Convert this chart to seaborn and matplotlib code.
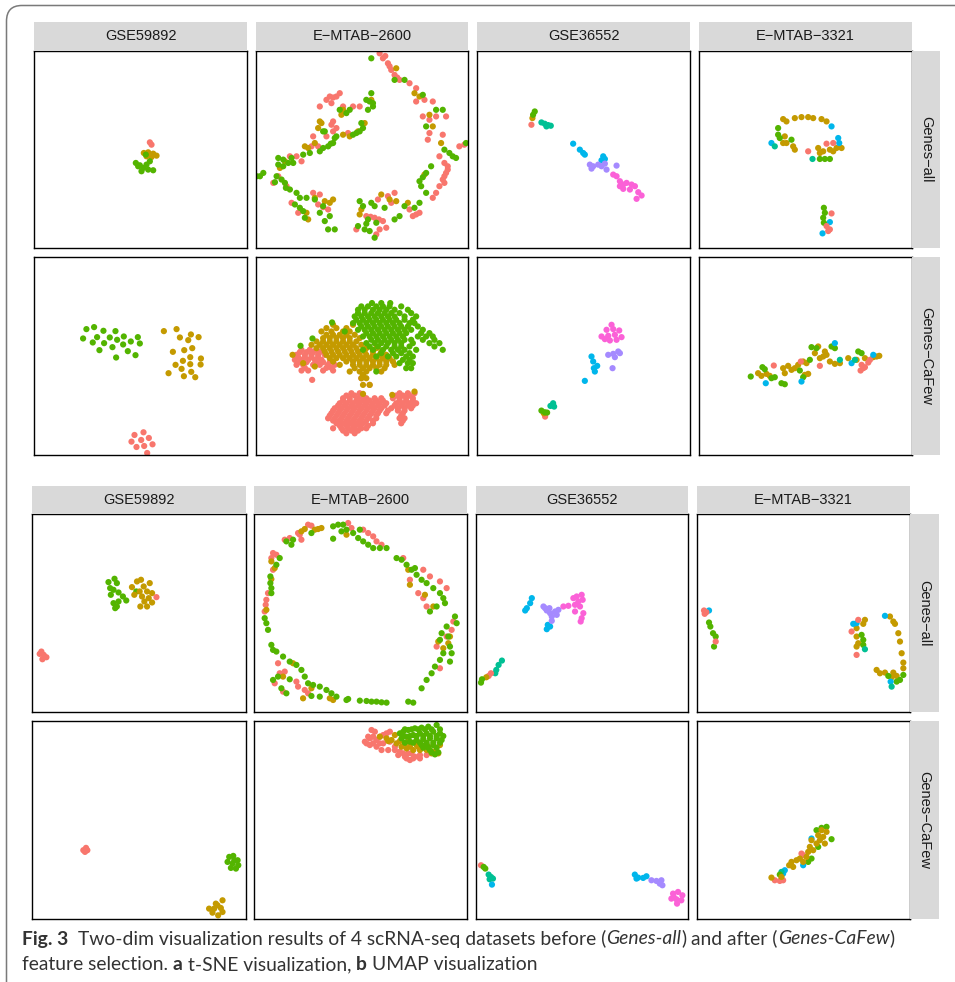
import matplotlib
matplotlib.use("Agg")
import matplotlib.pyplot as plt
import matplotlib.patches as mpatches
import pandas as pd
import seaborn as sns

datasets = ["GSE59892", "E\u2212MTAB\u22122600", "GSE36552", "E\u2212MTAB\u22123321"]
feature_sets = ["Genes\u2212all", "Genes\u2212CaFew"]
cluster_colors = ["#F8766D", "#C49A00", "#53B400", "#00C094", "#00B6EB", "#A58AFF", "#FB61D7"]

# embedding coordinates: (dim1, dim2, cluster)
tsne_all_gse59892 = [
    (34.7, -27.5, 0), (35.2, -28.2, 0),
    (32.9, -30.7, 1), (34.2, -30.5, 1), (35.7, -30.9, 1), (36.7, -31.5, 1), (33.7, -31.7, 1), (35.2, -31.9, 1),
    (30.5, -33.7, 2), (31.7, -34.4, 2), (32.7, -35.2, 2), (33.7, -34.2, 2), (34.7, -33.2, 2), (33.5, -31.2, 2),
    (35.7, -35.9, 2), (32.2, -36.2, 2), (34.2, -35.7, 2), (31.2, -34.7, 2),
]

tsne_all_emtab2600 = [
    (38.2, -2.2, 0), (39.7, -3.7, 0), (40.7, -5.7, 0), (41.7, -7.2, 0), (43.2, -8.7, 0), (37.2, -0.7, 0),
    (46.2, -9.7, 0), (48.2, -11.2, 0), (48.2, -15.2, 0), (50.7, -14.7, 0), (53.2, -15.2, 0), (50.2, -19.7, 0),
    (52.2, -20.7, 0), (54.2, -19.7, 0), (57.2, -19.7, 0), (52.2, -24.7, 0), (51.7, -26.7, 0), (56.2, -25.2, 0),
    (61.2, -28.7, 0), (62.7, -28.2, 0), (55.2, -31.7, 0), (56.7, -33.7, 0), (57.7, -34.7, 0), (57.2, -36.7, 0),
    (56.2, -38.7, 0), (53.2, -44.2, 0), (54.2, -42.7, 0), (55.2, -40.7, 0), (56.7, -39.7, 0), (49.2, -48.7, 0),
    (47.2, -49.7, 0), (46.2, -47.7, 0), (39.7, -43.7, 0), (40.7, -45.7, 0), (41.7, -42.7, 0), (36.7, -44.7, 0),
    (33.2, -49.7, 0), (35.7, -50.2, 0), (38.2, -51.2, 0), (37.2, -53.7, 0), (39.2, -53.2, 0), (36.2, -55.2, 0),
    (30.2, -53.7, 0), (18.7, -46.2, 0), (21.7, -47.7, 0), (19.2, -43.2, 0), (17.2, -42.7, 0), (9.2, -40.7, 0),
    (10.7, -45.7, 0), (12.7, -48.7, 0), (6.7, -37.7, 0), (5.2, -39.7, 0), (10.2, -31.7, 0), (12.2, -31.7, 0),
    (13.7, -33.2, 0), (17.2, -25.7, 0), (16.7, -28.7, 0), (18.7, -28.7, 0), (21.2, -25.7, 0), (23.2, -24.2, 0),
    (27.7, -24.7, 0), (24.2, -23.2, 0), (22.7, -22.2, 0), (23.2, -21.2, 0), (19.2, -16.7, 0), (21.2, -14.7, 0),
    (22.7, -15.7, 0), (22.2, -13.7, 0), (24.2, -13.7, 0), (25.2, -12.7, 0), (26.2, -16.7, 0), (29.2, -16.7, 0),
    (31.2, -16.7, 0), (38.9, -1.5, 0), (40.2, -4.6, 0), (42.5, -8.0, 0), (57.7, -35.7, 0), (56.7, -37.7, 0),
    (48.2, -49.2, 0), (34.5, -49.9, 0), (37.0, -50.7, 0), (20.2, -47.0, 0), (23.2, -14.0, 0),
    (42.2, -5.2, 1), (47.7, -12.7, 1), (49.2, -13.7, 1), (52.2, -19.2, 1), (53.2, -22.7, 1), (55.7, -27.7, 1),
    (50.7, -37.2, 1), (45.7, -45.7, 1), (42.2, -45.2, 1), (40.2, -44.7, 1), (37.7, -43.2, 1), (31.7, -47.7, 1),
    (31.2, -49.2, 1), (20.7, -45.2, 1), (22.2, -45.7, 1), (23.2, -44.7, 1), (17.7, -44.2, 1), (15.2, -48.7, 1),
    (15.7, -50.7, 1), (7.2, -35.2, 1), (8.7, -33.2, 1), (14.7, -28.7, 1), (15.7, -29.2, 1), (17.7, -27.7, 1),
    (26.2, -25.2, 1), (28.2, -25.7, 1), (32.7, -21.7, 1), (30.7, -24.2, 1), (19.7, -21.7, 1), (19.2, -21.2, 1),
    (18.7, -23.2, 1), (25.7, -19.2, 1), (26.2, -17.7, 1), (34.7, -14.7, 1),
    (34.7, -2.2, 2), (41.7, -8.7, 2), (44.7, -8.7, 2), (50.2, -13.2, 2), (54.2, -17.7, 2), (56.2, -17.7, 2),
    (51.2, -22.7, 2), (63.2, -27.7, 2), (56.7, -29.7, 2), (58.2, -30.7, 2), (59.2, -31.7, 2), (52.7, -34.7, 2),
    (51.2, -36.7, 2), (49.2, -39.2, 2), (49.7, -40.7, 2), (51.2, -42.7, 2), (49.2, -45.7, 2), (47.7, -47.2, 2),
    (44.7, -46.7, 2), (43.2, -49.7, 2), (41.7, -50.7, 2), (38.7, -47.2, 2), (34.7, -45.7, 2), (35.7, -46.7, 2),
    (31.2, -45.2, 2), (32.2, -46.7, 2), (33.7, -50.7, 2), (36.2, -51.7, 2), (30.7, -52.7, 2), (32.7, -53.7, 2),
    (34.2, -54.2, 2), (35.7, -56.2, 2), (21.7, -53.7, 2), (23.7, -53.7, 2), (20.7, -51.2, 2), (22.2, -49.7, 2),
    (19.2, -48.7, 2), (17.7, -44.7, 2), (20.2, -46.7, 2), (15.2, -44.2, 2), (13.2, -44.2, 2), (12.2, -42.7, 2),
    (10.2, -41.7, 2), (8.7, -39.7, 2), (7.7, -38.7, 2), (11.7, -46.2, 2), (13.2, -47.2, 2), (14.2, -48.2, 2),
    (14.7, -50.2, 2), (6.2, -37.7, 2), (5.7, -39.5, 2), (6.7, -32.2, 2), (8.2, -32.7, 2), (9.7, -33.7, 2),
    (10.7, -32.2, 2), (11.2, -33.7, 2), (8.2, -34.7, 2), (6.7, -34.2, 2), (1.2, -37.7, 2), (2.2, -36.7, 2),
    (0.2, -37.7, 2), (14.2, -31.2, 2), (16.2, -30.7, 2), (19.2, -30.2, 2), (20.2, -29.2, 2), (21.7, -28.7, 2),
    (23.2, -27.7, 2), (23.7, -26.2, 2), (20.7, -24.2, 2), (24.2, -25.7, 2), (29.2, -25.2, 2), (30.2, -24.7, 2),
    (31.2, -24.2, 2), (32.2, -23.2, 2), (31.7, -21.7, 2), (20.2, -24.2, 2), (27.2, -18.7, 2), (28.2, -17.7, 2),
    (25.2, -17.7, 2), (33.2, -14.7, 2), (34.2, -15.2, 2), (35.2, -15.7, 2), (34.7, -12.7, 2), (35.2, -16.7, 2),
    (33.7, -17.7, 2), (60.2, -32.2, 2), (50.2, -38.0, 2), (33.2, -52.0, 2), (9.0, -41.2, 2), (22.5, -27.9, 2),
]

tsne_all_gse36552 = [
    (16.3, -22.2, 0), (16.6, -20.2, 1), (17.3, -18.2, 2), (16.8, -19.2, 2),
    (19.3, -21.5, 3), (20.3, -21.9, 3), (21.3, -22.3, 3), (22.1, -22.5, 3), (20.8, -22.7, 3),
    (28.8, -27.9, 4), (30.8, -29.7, 4), (31.8, -30.7, 4), (32.3, -31.2, 4), (37.8, -31.7, 4), (38.3, -32.5, 4),
    (37.3, -32.9, 4),
    (33.8, -34.2, 5), (34.8, -34.7, 5), (36.3, -34.2, 5), (37.3, -34.7, 5), (38.3, -33.9, 5), (38.8, -35.7, 5),
    (41.8, -34.5, 5), (34.3, -35.4, 5),
    (40.8, -37.2, 6), (41.8, -37.7, 6), (42.8, -39.2, 6), (43.8, -40.2, 6), (44.8, -39.7, 6), (46.3, -40.2, 6),
    (47.3, -40.7, 6), (43.8, -41.5, 6), (45.8, -41.7, 6), (48.3, -42.5, 6), (49.3, -43.5, 6), (47.8, -44.5, 6),
    (42.8, -40.7, 6),
]

tsne_all_emtab3321 = [
    (25.2, -20.5, 1), (28.7, -20.2, 1), (30.7, -19.9, 1), (32.7, -19.9, 1), (34.2, -20.2, 1), (36.7, -20.5, 1),
    (38.2, -21.2, 1), (26.2, -21.2, 1), (25.7, -25.7, 1), (26.2, -27.7, 1), (28.2, -28.7, 1), (28.7, -29.7, 1),
    (25.2, -27.7, 1), (35.7, -29.2, 1), (37.2, -30.2, 1), (39.2, -29.7, 1), (41.2, -29.2, 1), (42.7, -29.2, 1),
    (36.2, -30.7, 1), (40.2, -30.2, 1),
    (39.7, -22.7, 4), (41.7, -26.2, 4), (42.0, -27.7, 4), (21.7, -27.7, 4), (39.2, -51.5, 4), (37.0, -54.9, 4),
    (23.7, -23.2, 2), (23.7, -25.2, 2), (24.2, -26.2, 2), (27.7, -26.7, 2), (36.2, -32.5, 2), (37.7, -32.5, 2),
    (39.2, -32.5, 2), (37.4, -47.2, 2), (37.7, -48.7, 2), (37.2, -50.2, 2), (37.4, -51.7, 2),
    (22.7, -28.7, 3), (34.0, -32.5, 3),
    (32.7, -30.2, 0), (38.2, -27.9, 0), (40.2, -27.7, 0), (39.7, -48.9, 0), (39.2, -53.7, 0), (38.7, -54.2, 0),
    (38.2, -52.7, 0),
]

tsne_cafew_gse59892 = [
    (15.7, -21.6, 2), (18.0, -21.0, 2), (20.8, -22.1, 2), (24.4, -22.2, 2), (14.7, -24.4, 2), (18.9, -24.0, 2),
    (22.7, -24.1, 2), (24.9, -24.8, 2), (26.9, -23.8, 2), (31.1, -24.0, 2), (17.6, -25.6, 2), (21.0, -25.8, 2),
    (23.5, -27.0, 2), (26.7, -26.2, 2), (29.0, -25.3, 2), (31.7, -25.9, 2), (19.6, -27.9, 2), (28.1, -28.2, 2),
    (30.4, -29.4, 2), (24.6, -30.1, 2),
    (38.9, -22.2, 1), (42.7, -21.6, 1), (47.0, -23.2, 1), (43.7, -24.1, 1), (46.2, -24.9, 1), (49.3, -24.0, 1),
    (47.4, -27.3, 1), (41.6, -28.4, 1), (45.0, -27.9, 1), (46.8, -30.0, 1), (50.0, -30.4, 1), (44.6, -31.1, 1),
    (42.4, -32.3, 1), (46.8, -32.1, 1), (49.9, -32.2, 1), (44.2, -33.5, 1), (40.3, -34.8, 1), (47.1, -34.4, 1),
    (44.9, -35.7, 1), (48.3, -36.0, 1),
    (30.1, -53.3, 0), (32.8, -52.5, 0), (29.2, -55.3, 0), (32.1, -54.8, 0), (34.4, -54.2, 0), (35.5, -56.1, 0),
    (30.7, -56.9, 0), (33.0, -56.6, 0), (33.9, -58.7, 0),
]

tsne_cafew_emtab2600 = [
    (13.7, -27.8, 0), (16.2, -27.8, 0), (18.2, -27.8, 0), (12.2, -29.3, 0), (14.7, -29.3, 0), (16.7, -29.3, 0),
    (18.7, -29.3, 0), (20.7, -29.3, 0), (11.7, -30.8, 0), (13.7, -30.8, 0), (15.7, -30.8, 0), (17.7, -30.8, 0),
    (19.7, -30.8, 0), (12.2, -32.3, 0), (14.2, -32.3, 0), (17.2, -32.3, 0), (19.2, -32.3, 0), (21.7, -32.3, 0),
    (23.7, -32.3, 0), (13.7, -34.0, 0), (15.7, -34.0, 0), (20.2, -34.0, 0), (23.2, -34.0, 0), (16.9, -36.8, 0),
    (13.2, -28.5, 0), (15.2, -28.5, 0), (17.2, -28.5, 0), (19.2, -28.5, 0), (12.7, -30.0, 0), (14.7, -30.0, 0),
    (16.7, -30.0, 0), (18.7, -30.0, 0), (13.2, -31.5, 0), (15.2, -31.5, 0), (18.2, -31.5, 0), (20.2, -31.5, 0),
    (22.2, -31.5, 0), (14.7, -33.2, 0), (21.2, -33.2, 0), (22.7, -33.2, 0),
    (31.7, -36.3, 0), (34.2, -38.3, 0),
    (28.7, -40.8, 0), (31.2, -40.8, 0), (43.2, -40.8, 0), (45.7, -40.8, 0), (47.7, -40.8, 0),
    (26.2, -42.3, 0), (28.2, -42.3, 0), (30.7, -42.3, 0), (33.2, -42.3, 0), (35.7, -42.3, 0), (37.7, -42.3, 0),
    (41.2, -42.3, 0), (43.2, -42.3, 0), (45.2, -42.3, 0), (47.2, -42.3, 0),
    (25.2, -43.8, 0), (27.2, -43.8, 0), (29.2, -43.8, 0), (31.2, -43.8, 0), (33.2, -43.8, 0), (35.2, -43.8, 0),
    (37.2, -43.8, 0), (39.2, -43.8, 0), (42.2, -43.8, 0), (44.2, -43.8, 0), (46.2, -43.8, 0), (48.2, -43.8, 0),
    (23.7, -45.3, 0), (25.7, -45.3, 0), (27.7, -45.3, 0), (29.7, -45.3, 0), (31.7, -45.3, 0), (33.7, -45.3, 0),
    (35.7, -45.3, 0), (37.7, -45.3, 0), (40.7, -45.3, 0), (42.7, -45.3, 0), (44.7, -45.3, 0), (46.7, -45.3, 0),
    (22.7, -46.8, 0), (24.7, -46.8, 0), (26.7, -46.8, 0), (28.7, -46.8, 0), (30.7, -46.8, 0), (32.7, -46.8, 0),
    (34.7, -46.8, 0), (36.7, -46.8, 0), (39.2, -46.8, 0), (44.2, -46.8, 0),
    (21.7, -48.3, 0), (23.7, -48.3, 0), (25.7, -48.3, 0), (27.7, -48.3, 0), (29.7, -48.3, 0), (31.7, -48.3, 0),
    (33.7, -48.3, 0), (36.2, -48.3, 0), (43.2, -48.3, 0), (44.7, -48.3, 0),
    (24.2, -49.8, 0), (26.2, -49.8, 0), (28.2, -49.8, 0), (30.2, -49.8, 0), (32.2, -49.8, 0), (35.2, -49.8, 0),
    (43.7, -49.8, 0), (23.2, -51.3, 0), (25.7, -51.3, 0), (27.7, -51.3, 0), (29.7, -51.3, 0), (31.7, -51.3, 0),
    (33.2, -51.3, 0), (27.2, -52.8, 0), (29.7, -52.8, 0),
    (27.2, -41.5, 0), (29.7, -41.5, 0), (32.2, -41.5, 0), (42.2, -41.5, 0), (44.2, -41.5, 0), (46.2, -41.5, 0),
    (26.2, -43.0, 0), (28.2, -43.0, 0), (30.2, -43.0, 0), (32.2, -43.0, 0), (34.2, -43.0, 0), (36.2, -43.0, 0),
    (38.2, -43.0, 0), (43.2, -43.0, 0), (45.2, -43.0, 0), (47.2, -43.0, 0),
    (24.7, -44.5, 0), (26.7, -44.5, 0), (28.7, -44.5, 0), (30.7, -44.5, 0), (32.7, -44.5, 0), (34.7, -44.5, 0),
    (36.7, -44.5, 0), (38.7, -44.5, 0), (41.7, -44.5, 0), (43.7, -44.5, 0), (45.7, -44.5, 0), (47.2, -44.5, 0),
    (23.2, -46.0, 0), (25.2, -46.0, 0), (27.2, -46.0, 0), (29.2, -46.0, 0), (31.2, -46.0, 0), (33.2, -46.0, 0),
    (35.2, -46.0, 0), (37.2, -46.0, 0), (39.7, -46.0, 0), (42.7, -46.0, 0), (44.7, -46.0, 0),
    (22.2, -47.5, 0), (24.2, -47.5, 0), (26.2, -47.5, 0), (28.2, -47.5, 0), (30.2, -47.5, 0), (32.2, -47.5, 0),
    (34.2, -47.5, 0), (36.2, -47.5, 0), (43.7, -47.5, 0),
    (23.2, -49.0, 0), (25.2, -49.0, 0), (27.2, -49.0, 0), (29.2, -49.0, 0), (31.2, -49.0, 0), (33.2, -49.0, 0),
    (35.2, -49.0, 0), (44.2, -49.0, 0), (25.2, -50.5, 0), (27.2, -50.5, 0), (29.2, -50.5, 0), (31.2, -50.5, 0),
    (33.7, -50.5, 0), (26.2, -52.0, 0), (28.7, -52.0, 0), (30.7, -52.0, 0),
    (23.2, -20.3, 1), (29.2, -20.3, 1), (19.7, -22.3, 1), (22.7, -22.3, 1), (26.2, -22.3, 1), (28.2, -22.3, 1),
    (20.2, -24.3, 1), (22.2, -24.3, 1), (24.2, -24.3, 1), (26.2, -24.3, 1), (28.2, -24.3, 1), (31.2, -24.3, 1),
    (16.7, -26.3, 1), (19.2, -26.3, 1), (21.2, -26.3, 1), (23.2, -26.3, 1), (25.2, -26.3, 1), (27.2, -26.3, 1),
    (29.2, -26.3, 1), (31.7, -26.3, 1), (20.7, -28.3, 1), (22.7, -28.3, 1), (24.7, -28.3, 1), (26.7, -28.3, 1),
    (28.7, -28.3, 1), (30.7, -28.3, 1), (32.7, -28.3, 1), (35.2, -28.3, 1), (37.7, -28.3, 1),
    (22.2, -30.3, 1), (24.2, -30.3, 1), (26.2, -30.3, 1), (28.2, -30.3, 1), (30.2, -30.3, 1), (32.2, -30.3, 1),
    (34.2, -30.3, 1), (36.2, -30.3, 1), (38.2, -30.3, 1), (40.2, -30.3, 1),
    (25.2, -32.3, 1), (29.2, -32.3, 1), (31.2, -32.3, 1), (33.2, -32.3, 1), (35.2, -32.3, 1), (37.2, -32.3, 1),
    (39.2, -32.3, 1), (41.7, -32.3, 1), (28.2, -34.3, 1), (31.2, -34.3, 1), (33.2, -34.3, 1), (37.7, -34.3, 1),
    (31.7, -36.3, 1), (33.2, -36.3, 1), (32.2, -38.3, 1), (34.2, -38.3, 1),
    (21.2, -21.3, 1), (24.2, -21.3, 1), (27.2, -21.3, 1), (21.2, -23.3, 1), (23.2, -23.3, 1), (25.2, -23.3, 1),
    (27.2, -23.3, 1), (29.7, -23.3, 1), (18.2, -25.3, 1), (20.2, -25.3, 1), (22.2, -25.3, 1), (24.2, -25.3, 1),
    (26.2, -25.3, 1), (28.2, -25.3, 1), (30.2, -25.3, 1), (18.2, -27.3, 1), (20.2, -27.3, 1), (22.2, -27.3, 1),
    (24.2, -27.3, 1), (26.2, -27.3, 1), (28.2, -27.3, 1), (30.2, -27.3, 1), (33.2, -27.3, 1), (36.2, -27.3, 1),
    (21.2, -29.3, 1), (23.2, -29.3, 1), (25.2, -29.3, 1), (27.2, -29.3, 1), (29.2, -29.3, 1), (31.2, -29.3, 1),
    (33.2, -29.3, 1), (35.2, -29.3, 1), (37.2, -29.3, 1), (39.2, -29.3, 1), (23.2, -31.3, 1), (27.2, -31.3, 1),
    (29.2, -31.3, 1), (31.2, -31.3, 1), (33.2, -31.3, 1), (35.2, -31.3, 1), (37.2, -31.3, 1), (39.2, -31.3, 1),
    (41.2, -31.3, 1), (29.7, -33.3, 1), (32.2, -33.3, 1), (34.2, -33.3, 1), (36.2, -33.3, 1), (38.7, -33.3, 1),
    (32.2, -35.3, 1),
    (11.0, -29.3, 1), (14.2, -31.8, 1), (17.7, -32.8, 1), (32.2, -41.0, 1), (41.0, -41.3, 1), (47.7, -40.3, 1),
    (34.9, -13.8, 2), (37.7, -13.8, 2), (40.4, -13.8, 2),
    (30.7, -15.8, 2), (32.7, -15.8, 2), (35.2, -15.8, 2), (37.2, -15.8, 2), (39.2, -15.8, 2), (41.7, -15.8, 2),
    (45.7, -15.8, 2),
    (29.7, -17.8, 2), (31.7, -17.8, 2), (33.7, -17.8, 2), (35.7, -17.8, 2), (37.7, -17.8, 2), (39.7, -17.8, 2),
    (41.7, -17.8, 2), (44.7, -17.8, 2), (48.2, -17.8, 2),
    (29.2, -19.8, 2), (31.2, -19.8, 2), (33.2, -19.8, 2), (35.2, -19.8, 2), (37.2, -19.8, 2), (39.2, -19.8, 2),
    (41.2, -19.8, 2), (43.2, -19.8, 2), (46.2, -19.8, 2), (47.7, -19.8, 2),
    (30.7, -21.8, 2), (32.7, -21.8, 2), (34.7, -21.8, 2), (36.7, -21.8, 2), (38.7, -21.8, 2), (40.7, -21.8, 2),
    (42.7, -21.8, 2), (44.7, -21.8, 2), (46.7, -21.8, 2), (50.2, -21.8, 2),
    (32.2, -23.8, 2), (34.2, -23.8, 2), (36.2, -23.8, 2), (38.2, -23.8, 2), (40.2, -23.8, 2), (42.2, -23.8, 2),
    (44.2, -23.8, 2), (48.7, -23.8, 2), (51.2, -23.8, 2), (53.2, -23.8, 2),
    (33.2, -25.8, 2), (35.7, -25.8, 2), (37.7, -25.8, 2), (39.7, -25.8, 2), (41.7, -25.8, 2), (43.7, -25.8, 2),
    (47.2, -25.8, 2), (52.2, -25.8, 2), (55.2, -25.8, 2),
    (32.2, -27.8, 2), (35.2, -27.8, 2), (38.2, -27.8, 2), (40.7, -27.8, 2), (42.7, -27.8, 2), (44.7, -27.8, 2),
    (48.2, -27.8, 2), (56.2, -27.8, 2),
    (36.2, -29.8, 2), (39.7, -29.8, 2), (42.2, -29.8, 2), (45.2, -29.8, 2), (47.2, -29.8, 2),
    (43.2, -31.8, 2), (45.7, -31.8, 2), (47.2, -31.8, 2), (45.2, -33.3, 2), (46.7, -33.3, 2),
    (31.7, -14.8, 2), (33.7, -14.8, 2), (36.2, -14.8, 2), (38.2, -14.8, 2), (40.2, -14.8, 2), (43.7, -14.8, 2),
    (30.7, -16.8, 2), (32.7, -16.8, 2), (34.7, -16.8, 2), (36.7, -16.8, 2), (38.7, -16.8, 2), (40.7, -16.8, 2),
    (43.2, -16.8, 2), (46.7, -16.8, 2), (30.2, -18.8, 2), (32.2, -18.8, 2), (34.2, -18.8, 2), (36.2, -18.8, 2),
    (38.2, -18.8, 2), (40.2, -18.8, 2), (42.2, -18.8, 2), (44.7, -18.8, 2), (47.2, -18.8, 2),
    (31.7, -20.8, 2), (33.7, -20.8, 2), (35.7, -20.8, 2), (37.7, -20.8, 2), (39.7, -20.8, 2), (41.7, -20.8, 2),
    (43.7, -20.8, 2), (45.7, -20.8, 2), (48.7, -20.8, 2), (33.2, -22.8, 2), (35.2, -22.8, 2), (37.2, -22.8, 2),
    (39.2, -22.8, 2), (41.2, -22.8, 2), (43.2, -22.8, 2), (45.2, -22.8, 2), (49.7, -22.8, 2), (52.2, -22.8, 2),
    (34.7, -24.8, 2), (36.7, -24.8, 2), (38.7, -24.8, 2), (40.7, -24.8, 2), (42.7, -24.8, 2), (44.7, -24.8, 2),
    (46.7, -24.8, 2), (50.2, -24.8, 2), (53.7, -24.8, 2), (34.2, -26.8, 2), (36.7, -26.8, 2), (39.2, -26.8, 2),
    (41.7, -26.8, 2), (43.7, -26.8, 2), (46.2, -26.8, 2), (53.7, -26.8, 2), (37.7, -28.8, 2), (41.2, -28.8, 2),
    (43.7, -28.8, 2), (46.2, -28.8, 2), (44.2, -30.8, 2), (46.2, -30.8, 2),
    (22.9, -19.6, 2), (17.0, -24.4, 2), (13.4, -26.6, 2), (26.7, -22.3, 2), (36.2, -34.3, 2),
]

tsne_cafew_gse36552 = [
    (40.3, -20.3, 6), (38.8, -21.8, 6), (40.8, -21.6, 6), (42.6, -22.0, 6), (37.3, -23.8, 6), (39.3, -23.6, 6),
    (41.3, -23.3, 6), (43.3, -24.0, 6), (39.8, -25.0, 6), (41.8, -24.8, 6), (38.3, -24.6, 6),
    (39.3, -29.3, 5), (40.8, -29.0, 5), (42.3, -28.3, 5), (41.3, -30.0, 5), (40.6, -33.3, 5), (42.8, -28.8, 5),
    (34.3, -29.8, 4), (34.8, -31.3, 4), (36.0, -32.6, 4), (35.0, -33.3, 4), (35.3, -34.3, 4), (32.3, -37.1, 4),
    (22.8, -43.8, 3), (22.0, -44.6, 3), (23.1, -44.8, 3),
    (20.4, -47.8, 0), (20.0, -46.8, 1),
    (19.3, -46.0, 2), (20.3, -46.5, 2), (21.0, -46.6, 2),
]

tsne_cafew_emtab3321 = [
    (17.7, -34.8, 1), (18.7, -35.6, 1), (20.2, -35.0, 1), (21.2, -35.6, 1), (25.2, -33.3, 1), (26.7, -32.6, 1),
    (27.7, -33.8, 1), (25.7, -34.8, 1), (28.7, -33.3, 1), (29.7, -32.3, 1), (31.2, -31.3, 1), (32.2, -31.8, 1),
    (31.7, -35.3, 1), (32.7, -35.0, 1), (34.7, -28.8, 1), (36.2, -30.3, 1), (37.2, -29.8, 1), (38.2, -29.3, 1),
    (39.2, -31.3, 1), (40.7, -32.0, 1), (42.2, -31.8, 1), (37.7, -28.3, 1), (44.7, -30.3, 1), (47.2, -30.8, 1),
    (49.7, -30.3, 1), (52.2, -30.0, 1), (54.0, -29.6, 1), (53.2, -29.8, 1), (35.7, -26.8, 1),
    (15.5, -35.8, 2), (19.0, -33.0, 2), (19.7, -33.6, 2), (21.7, -36.3, 2), (22.7, -36.0, 2), (24.7, -37.8, 2),
    (25.7, -38.1, 2), (31.2, -36.0, 2), (30.2, -34.0, 2), (33.7, -27.0, 2), (35.2, -27.3, 2), (39.7, -26.8, 2),
    (40.7, -27.3, 2), (47.7, -28.3, 2), (48.7, -28.8, 2), (33.2, -30.8, 2),
    (22.4, -32.5, 0), (30.5, -31.3, 0), (36.2, -32.6, 0), (48.7, -32.3, 0), (49.7, -33.0, 0), (48.4, -34.0, 0),
    (50.7, -31.6, 0), (51.2, -30.8, 0), (49.2, -33.3, 0),
    (20.0, -37.8, 4), (30.7, -37.3, 4), (40.7, -25.8, 4), (45.7, -31.8, 4), (52.2, -29.3, 4),
    (42.2, -30.8, 3), (46.7, -30.8, 3),
]

umap_all_gse59892 = [
    (22.8, -20.4, 2), (24.6, -19.4, 2), (25.3, -20.7, 2), (23.3, -22.2, 2), (24.3, -22.7, 2), (23.5, -24.2, 2),
    (25.8, -23.5, 2), (27.1, -24.7, 2), (28.1, -25.9, 2), (24.3, -26.7, 2), (25.3, -27.7, 2), (25.8, -26.2, 2),
    (24.8, -28.2, 2), (31.1, -23.2, 2),
    (29.8, -21.9, 1), (31.3, -20.2, 1), (32.5, -19.7, 1), (35.1, -20.7, 1), (33.3, -21.7, 1), (32.1, -23.2, 1),
    (34.3, -23.2, 1), (35.8, -23.7, 1), (30.5, -24.2, 1), (32.8, -24.7, 1), (34.8, -25.2, 1), (33.5, -26.2, 1),
    (35.8, -26.5, 1), (32.3, -27.7, 1), (34.3, -27.7, 1),
    (37.1, -24.9, 0), (2.3, -41.9, 0), (3.5, -42.2, 0), (3.1, -43.5, 0), (4.3, -42.9, 0), (2.8, -41.2, 0),
]

umap_all_emtab2600 = [
    (16.2, -3.2, 0), (17.2, -3.5, 0), (13.2, -5.7, 0), (10.7, -7.2, 0), (14.2, -7.7, 0), (13.7, -6.2, 0),
    (9.2, -7.7, 0), (5.7, -11.7, 0), (5.2, -13.2, 0), (6.7, -12.2, 0), (5.7, -16.7, 0), (4.2, -23.7, 0),
    (3.7, -25.7, 0), (3.5, -27.2, 0), (3.2, -29.2, 0), (28.2, -2.7, 0), (29.2, -4.2, 0), (32.7, -4.7, 0),
    (34.2, -5.7, 0), (35.7, -6.7, 0), (36.7, -8.2, 0), (38.2, -9.2, 0), (44.7, -13.2, 0), (50.7, -16.7, 0),
    (52.7, -18.7, 0), (55.7, -20.2, 0), (57.7, -22.2, 0), (49.2, -23.7, 0), (50.7, -25.2, 0), (51.7, -27.7, 0),
    (46.7, -19.7, 0), (59.7, -32.2, 0), (59.2, -34.7, 0), (57.7, -36.7, 0), (54.7, -39.7, 0), (55.7, -46.2, 0),
    (7.2, -44.7, 0), (7.7, -47.7, 0), (6.2, -50.7, 0), (8.7, -53.2, 0), (13.2, -51.7, 0), (15.2, -52.7, 0),
    (16.2, -53.7, 0), (12.7, -50.2, 0), (9.2, -47.2, 0),
    (15.2, -4.5, 1), (14.2, -5.2, 1), (18.2, -4.7, 1), (19.2, -4.5, 1), (20.2, -4.2, 1), (6.2, -16.2, 1),
    (5.2, -14.2, 1), (5.2, -19.5, 1), (3.7, -28.7, 1), (27.7, -6.2, 1), (46.7, -21.2, 1), (51.2, -24.2, 1),
    (53.7, -27.7, 1), (46.2, -16.7, 1), (58.7, -36.7, 1), (55.2, -38.2, 1), (58.2, -38.7, 1), (56.7, -40.2, 1),
    (23.7, -55.7, 1), (22.7, -55.2, 1), (14.7, -55.2, 1), (8.7, -48.7, 1), (17.2, -52.2, 1), (11.7, -44.7, 1),
    (11.7, -7.7, 2), (11.2, -9.2, 2), (9.7, -8.2, 2), (17.2, -5.7, 2), (7.7, -13.2, 2), (6.7, -15.2, 2),
    (4.9, -18.7, 2), (4.9, -20.7, 2), (5.2, -22.2, 2), (5.2, -23.7, 2), (3.2, -31.2, 2), (3.7, -32.7, 2),
    (4.2, -34.7, 2), (23.7, -3.7, 2), (25.2, -3.2, 2), (26.7, -3.2, 2), (27.7, -4.7, 2), (26.2, -5.2, 2),
    (23.7, -7.4, 2), (29.7, -5.7, 2), (31.7, -4.7, 2), (31.2, -7.2, 2), (32.7, -8.2, 2), (34.2, -9.2, 2),
    (35.7, -10.2, 2), (37.7, -10.2, 2), (39.7, -10.2, 2), (42.7, -13.2, 2), (44.2, -13.7, 2), (45.7, -15.2, 2),
    (47.2, -16.7, 2), (48.7, -18.2, 2), (50.2, -19.7, 2), (51.7, -20.7, 2), (53.7, -22.2, 2), (55.7, -23.7, 2),
    (56.7, -25.2, 2), (57.2, -26.7, 2), (54.7, -27.7, 2), (52.7, -29.2, 2), (48.2, -16.2, 2), (60.2, -30.7, 2),
    (60.7, -32.7, 2), (57.7, -33.7, 2), (56.2, -35.7, 2), (55.7, -37.7, 2), (58.2, -36.7, 2), (58.7, -39.7, 2),
    (59.2, -41.7, 2), (58.7, -44.2, 2), (56.7, -41.7, 2), (55.7, -43.7, 2), (54.2, -45.7, 2), (53.2, -47.7, 2),
    (51.7, -49.7, 2), (50.2, -52.2, 2), (47.7, -56.5, 2), (46.2, -56.2, 2), (39.7, -56.5, 2), (38.2, -56.4, 2),
    (36.7, -56.2, 2), (35.2, -56.2, 2), (33.7, -56.0, 2), (31.7, -55.9, 2), (28.2, -55.4, 2), (27.7, -55.7, 2),
    (24.7, -54.7, 2), (23.2, -53.7, 2), (21.7, -52.7, 2), (19.7, -51.7, 2), (17.7, -51.2, 2), (16.2, -50.7, 2),
    (15.2, -48.7, 2), (14.2, -46.7, 2), (12.7, -45.2, 2), (10.7, -44.2, 2), (8.7, -42.7, 2), (6.7, -41.2, 2),
    (5.2, -39.2, 2), (5.7, -40.7, 2), (5.7, -49.7, 2), (7.2, -48.7, 2), (8.2, -52.2, 2), (9.7, -53.7, 2),
    (19.7, -54.7, 2), (17.2, -54.5, 2), (10.7, -49.5, 2),
]

umap_all_gse36552 = [
    (16.8, -25.2, 4), (16.3, -26.7, 4), (15.3, -28.2, 4), (14.8, -28.9, 4), (21.6, -33.2, 4), (21.3, -34.5, 4),
    (22.3, -33.7, 4),
    (20.3, -27.7, 5), (21.3, -28.9, 5), (22.3, -29.7, 5), (23.8, -29.2, 5), (24.3, -30.2, 5), (22.8, -30.7, 5),
    (24.8, -28.7, 5), (22.8, -32.0, 5), (20.8, -28.2, 5), (22.1, -28.2, 5),
    (26.3, -27.7, 6), (27.8, -27.5, 6), (29.3, -25.2, 6), (30.3, -24.7, 6), (31.8, -24.2, 6), (30.8, -26.2, 6),
    (29.8, -27.2, 6), (31.3, -27.7, 6), (32.3, -29.7, 6), (31.8, -31.2, 6), (31.5, -32.2, 6), (29.8, -29.2, 6),
    (32.1, -25.7, 6),
    (7.8, -43.9, 3), (6.8, -45.2, 3), (6.1, -46.7, 3), (5.8, -47.7, 3),
    (4.5, -47.7, 0), (3.8, -48.5, 0), (3.1, -48.9, 1), (1.8, -49.5, 2), (1.5, -50.5, 2),
]

umap_all_emtab3321 = [
    (47.8, -34.2, 1), (47.8, -36.7, 1), (48.3, -38.7, 1), (47.8, -39.7, 1), (50.3, -31.7, 1), (49.8, -32.9, 1),
    (57.8, -30.7, 1), (58.8, -32.2, 1), (59.3, -32.9, 1), (60.3, -35.7, 1), (60.8, -38.2, 1), (61.3, -41.7, 1),
    (61.8, -44.5, 1), (61.8, -46.2, 1), (53.8, -46.7, 1), (54.8, -47.7, 1), (56.3, -47.5, 1), (58.8, -47.5, 1),
    (59.8, -48.5, 1), (58.3, -48.9, 1),
    (3.6, -32.5, 2), (4.0, -33.7, 2), (4.8, -35.7, 2), (5.6, -36.7, 2), (5.1, -39.7, 2), (49.3, -36.2, 2),
    (49.8, -37.7, 2), (49.8, -39.2, 2), (61.8, -48.2, 2), (60.8, -49.7, 2), (59.8, -50.2, 2), (57.3, -48.5, 2),
    (3.6, -28.9, 4), (47.8, -32.7, 4), (46.8, -32.9, 4), (56.3, -30.5, 4), (58.0, -50.2, 4),
    (50.3, -40.5, 3), (58.3, -51.7, 3),
    (2.1, -28.9, 0), (2.8, -29.4, 0), (2.3, -29.9, 0), (5.6, -38.2, 0), (47.8, -42.2, 0), (46.3, -35.2, 0),
    (48.3, -31.7, 0),
]

umap_cafew_gse59892 = [
    (15.3, -38.7, 0), (16.5, -38.7, 0), (16.1, -38.0, 0), (15.8, -39.2, 0),
    (58.8, -40.7, 2), (60.0, -40.4, 2), (61.3, -41.7, 2), (58.3, -42.2, 2), (59.8, -42.7, 2), (61.5, -43.2, 2),
    (59.3, -44.0, 2), (60.8, -44.2, 2), (60.3, -41.7, 2),
    (56.8, -53.7, 1), (55.3, -55.2, 1), (52.8, -56.2, 1), (54.3, -56.2, 1), (56.3, -56.0, 1), (53.8, -57.4, 1),
    (55.5, -58.2, 1), (56.8, -57.2, 1), (54.8, -54.7, 1),
]

umap_cafew_emtab2600 = [
    (33.2, -6.2, 0), (34.7, -5.2, 0), (34.7, -7.2, 0), (36.2, -3.2, 0), (36.7, -5.7, 0), (36.7, -7.7, 0),
    (38.7, -4.2, 0), (38.7, -6.7, 0), (40.7, -3.2, 0), (40.7, -6.2, 0), (42.2, -7.7, 0), (43.7, -9.2, 0),
    (45.2, -10.7, 0), (46.7, -11.7, 0), (48.2, -10.7, 0), (49.7, -10.2, 0), (51.7, -10.2, 0), (46.2, -9.7, 0),
    (43.2, -10.2, 0), (35.2, -2.7, 0),
    (34.2, -4.7, 0), (35.7, -4.7, 0), (37.7, -4.7, 0), (33.7, -6.7, 0), (35.7, -6.7, 0), (37.7, -6.7, 0),
    (38.2, -8.7, 0), (40.2, -8.7, 0), (42.2, -8.7, 0), (44.7, -9.7, 0), (47.2, -9.7, 0), (45.7, -11.2, 0),
    (47.7, -11.2, 0), (49.7, -11.2, 0), (39.7, -3.7, 0),
    (37.7, -4.7, 1), (39.7, -5.2, 1), (41.2, -5.7, 1), (42.7, -6.7, 1), (44.2, -7.7, 1), (45.7, -8.2, 1),
    (47.7, -8.7, 1), (49.7, -8.7, 1), (51.7, -8.7, 1), (53.7, -9.2, 1), (42.2, -4.2, 1), (45.2, -6.7, 1),
    (48.7, -7.2, 1), (55.7, -7.2, 1), (40.2, -6.0, 1), (43.7, -6.0, 1), (46.2, -6.0, 1), (46.7, -7.7, 1),
    (49.2, -7.7, 1), (52.2, -7.7, 1), (53.2, -9.7, 1), (55.2, -9.7, 1),
    (44.7, -3.2, 2), (46.2, -2.7, 2), (48.2, -2.2, 2), (50.2, -2.0, 2), (52.2, -1.7, 2), (54.7, -1.2, 2),
    (55.7, -3.7, 2), (53.7, -3.2, 2), (51.7, -3.7, 2), (49.7, -3.7, 2), (47.7, -4.2, 2), (45.7, -4.7, 2),
    (44.2, -5.2, 2), (46.7, -6.2, 2), (48.7, -5.7, 2), (50.7, -5.4, 2), (52.7, -5.2, 2), (54.7, -5.2, 2),
    (56.2, -5.7, 2), (51.7, -7.0, 2), (53.7, -7.2, 2), (52.7, -8.7, 2), (54.2, -10.0, 2), (43.7, -3.7, 2),
    (50.2, -7.2, 2),
    (45.2, -2.5, 2), (47.2, -2.5, 2), (49.2, -2.5, 2), (51.2, -2.5, 2), (53.2, -2.5, 2), (55.7, -2.5, 2),
    (44.7, -4.5, 2), (46.7, -4.5, 2), (48.7, -4.5, 2), (50.7, -4.5, 2), (52.7, -4.5, 2), (54.7, -4.5, 2),
    (56.7, -4.5, 2), (45.2, -6.5, 2), (47.7, -6.5, 2), (49.7, -6.5, 2), (51.7, -6.5, 2), (53.7, -6.5, 2),
    (55.7, -6.5, 2), (50.7, -8.0, 2), (52.2, -8.0, 2), (54.7, -8.0, 2), (53.2, -9.4, 2), (55.2, -9.4, 2),
]

umap_cafew_gse36552 = [
    (1.5, -43.2, 0), (2.3, -43.7, 2), (2.8, -44.2, 2),
    (3.8, -46.0, 3), (4.5, -46.7, 3), (4.1, -47.4, 3), (5.1, -47.2, 3),
    (4.8, -49.0, 4), (47.8, -46.0, 4), (48.8, -46.9, 4), (50.3, -47.0, 4), (51.3, -46.5, 4), (48.3, -47.2, 4),
    (52.8, -47.7, 5), (54.3, -47.9, 5), (55.8, -47.7, 5), (56.1, -49.2, 5), (55.3, -48.7, 5),
    (59.3, -51.7, 6), (60.8, -51.2, 6), (62.1, -52.2, 6), (58.8, -53.2, 6), (60.3, -53.4, 6), (61.8, -53.7, 6),
    (60.5, -54.7, 6), (59.5, -52.7, 6),
]

umap_cafew_emtab3321 = [
    (23.3, -47.7, 0), (24.8, -47.9, 0), (25.8, -47.7, 0), (31.3, -39.7, 0), (31.8, -40.2, 0),
    (26.3, -44.7, 4), (31.8, -43.2, 4), (34.3, -35.2, 4), (25.8, -45.7, 4), (25.3, -45.2, 3),
    (35.8, -32.7, 2), (37.3, -32.0, 2), (38.8, -31.7, 2), (40.3, -35.4, 2), (34.3, -41.2, 2), (33.3, -42.2, 2),
    (24.8, -46.0, 2), (36.3, -37.7, 2),
    (22.3, -46.9, 1), (25.3, -46.7, 1), (27.6, -43.2, 1), (28.3, -42.2, 1), (29.8, -41.7, 1), (30.8, -41.2, 1),
    (31.8, -42.2, 1), (32.8, -40.7, 1), (33.3, -39.2, 1), (33.8, -37.7, 1), (34.8, -38.7, 1), (35.8, -36.7, 1),
    (36.8, -35.7, 1), (37.8, -34.7, 1), (38.3, -36.7, 1), (38.8, -33.2, 1), (34.3, -35.7, 1), (36.3, -34.2, 1),
    (28.8, -43.7, 1), (37.3, -32.7, 1),
]

tsne_panels = [
    [tsne_all_gse59892, tsne_all_emtab2600, tsne_all_gse36552, tsne_all_emtab3321],
    [tsne_cafew_gse59892, tsne_cafew_emtab2600, tsne_cafew_gse36552, tsne_cafew_emtab3321],
]
umap_panels = [
    [umap_all_gse59892, umap_all_emtab2600, umap_all_gse36552, umap_all_emtab3321],
    [umap_cafew_gse59892, umap_cafew_emtab2600, umap_cafew_gse36552, umap_cafew_emtab3321],
]

W, H = 955, 982
STRIP = "#D9D9D9"
STRIP_TXT = "#1A1A1A"


def frac(x0, y0, x1, y1):
    return [x0 / W, 1 - y1 / H, (x1 - x0) / W, (y1 - y0) / H]


def draw_grid(fig, panels, cols, rows, strip_y, side_x):
    palette = dict(enumerate(cluster_colors))
    for j, (x0, x1) in enumerate(cols):
        fig.add_artist(mpatches.Rectangle((x0 / W, 1 - strip_y[1] / H), (x1 - x0) / W,
                                          (strip_y[1] - strip_y[0]) / H, transform=fig.transFigure,
                                          facecolor=STRIP, edgecolor="none"))
        fig.text((x0 + x1) / 2 / W, 1 - (strip_y[0] + strip_y[1]) / 2 / H, datasets[j],
                 ha="center", va="center", fontsize=10.5, color=STRIP_TXT)
    for i, (y0, y1) in enumerate(rows):
        fig.add_artist(mpatches.Rectangle((side_x[0] / W, 1 - y1 / H), (side_x[1] - side_x[0]) / W,
                                          (y1 - y0) / H, transform=fig.transFigure,
                                          facecolor=STRIP, edgecolor="none"))
        fig.text((side_x[0] + side_x[1]) / 2 / W, 1 - (y0 + y1) / 2 / H, feature_sets[i],
                 ha="center", va="center", rotation=270, fontsize=10.5, color=STRIP_TXT)
        for j, (x0, x1) in enumerate(cols):
            ax = fig.add_axes(frac(x0, y0, x1, y1))
            df = pd.DataFrame(panels[i][j], columns=["dim1", "dim2", "cluster"])
            sns.scatterplot(data=df, x="dim1", y="dim2", hue="cluster", palette=palette,
                            s=20, linewidth=0, legend=False, ax=ax)
            ax.set_xlim(0, 63.8)
            ax.set_ylim(-59.3, 0)
            ax.set_xticks([])
            ax.set_yticks([])
            ax.set_xlabel("")
            ax.set_ylabel("")
            for sp in ax.spines.values():
                sp.set_color("black")
                sp.set_linewidth(1.0)


def rich_line(fig, x_px, base_px, pieces, size, color="#333333"):
    renderer = fig.canvas.get_renderer()

    def width(s, weight="normal"):
        t = fig.text(0, 0, s, fontsize=size, fontweight=weight, family="Lato")
        w = t.get_window_extent(renderer).width
        t.remove()
        return w

    space = width("n n") - width("nn")
    x = x_px
    for txt, weight, style, gaps in pieces:
        x += gaps * space
        t = fig.text(x / W, 1 - base_px / H, txt, fontsize=size, fontweight=weight,
                     fontstyle=style, family="Lato", color=color, ha="left", va="baseline")
        x += t.get_window_extent(renderer).width


sns.set_style("white")
plt.rcParams["font.family"] = ["Liberation Sans", "DejaVu Sans"]

fig = plt.figure(figsize=(W / 100, H / 100), dpi=100)

# outer rounded frame of the figure box
fig.add_artist(mpatches.FancyBboxPatch((6.5 / W, -0.1), 1.2, 1 - 5.5 / H + 0.1,
                                       boxstyle="round,pad=0,rounding_size=0.016",
                                       transform=fig.transFigure, facecolor="none",
                                       edgecolor="#7a7a7a", linewidth=1.1))

draw_grid(fig, tsne_panels,
          cols=[(34, 247), (256, 468), (477, 690), (699, 912)],
          rows=[(51, 248), (257, 455)], strip_y=(22, 51), side_x=(912, 940))
draw_grid(fig, umap_panels,
          cols=[(32, 246), (254, 467), (476, 688), (697, 910)],
          rows=[(514, 712), (721, 919)], strip_y=(486, 514), side_x=(910, 939))

cap = 13.9
rich_line(fig, 22, 944.5, [
    ("Fig. 3", "bold", "normal", 0),
    ("Two-dim visualization results of 4 scRNA-seq datasets before (", "normal", "normal", 2),
    ("Genes-all", "normal", "italic", 0),
    (")", "normal", "normal", 0),
    ("and after (", "normal", "normal", 1),
    ("Genes-CaFew", "normal", "italic", 0),
    (")", "normal", "normal", 0),
], cap)
rich_line(fig, 22, 970.5, [
    ("feature selection.", "normal", "normal", 0),
    ("a", "bold", "normal", 1),
    ("t-SNE visualization,", "normal", "normal", 1),
    ("b", "bold", "normal", 1),
    ("UMAP visualization", "normal", "normal", 1),
], cap)

fig.savefig("out.png", dpi=100)
